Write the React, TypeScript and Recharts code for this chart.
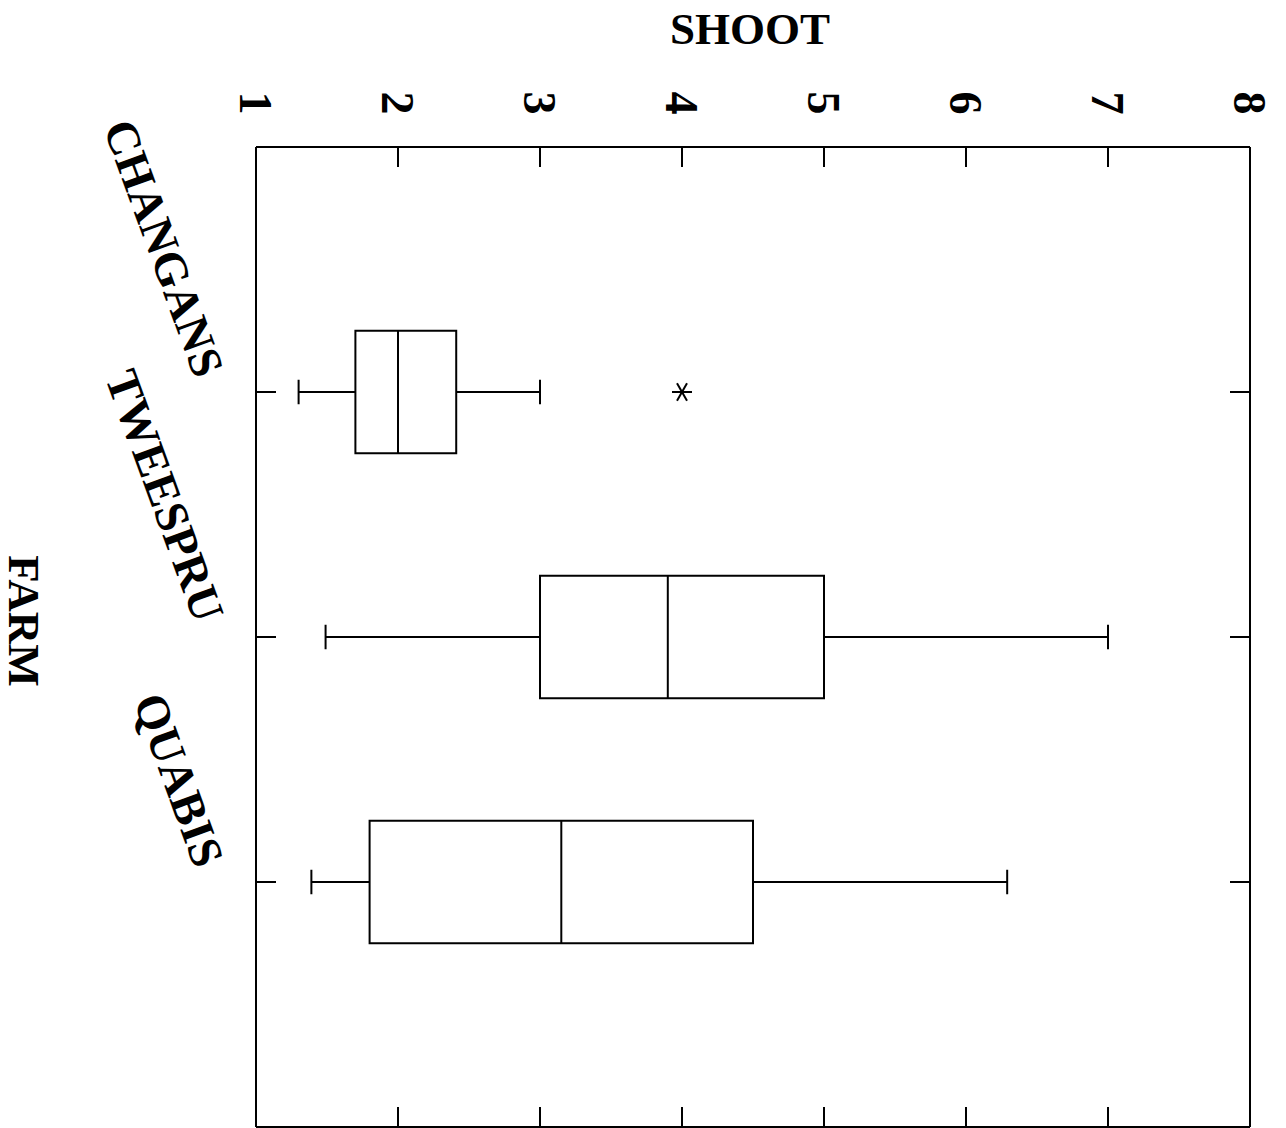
import React from 'react';
import {
  ComposedChart,
  XAxis,
  YAxis,
  Scatter,
  ReferenceArea,
  ReferenceLine,
  Customized,
} from 'recharts';

// ---- data ----
const farms = ['CHANGANS', 'TWEESPRU', 'QUABIS'];
const farmPositions = [1, 2, 3];
const lowerWhisker = [1.3, 1.49, 1.39];
const q1 = [1.7, 3.0, 1.8];
const median = [2.0, 3.9, 3.15];
const q3 = [2.41, 5.0, 4.5];
const upperWhisker = [3.0, 7.0, 6.29];
const outlierFarm = [1];
const outlierValue = [4.0];
const shootTicks = [1, 2, 3, 4, 5, 6, 7, 8];

// ---- layout constants ----
const W = 1286;
const H = 1128;
const PLOT_LEFT = 256;
const PLOT_RIGHT = 1250;
const PLOT_TOP = 147;
const PLOT_BOTTOM = 1127;
const AX = 1; // thin axis band
const FONT = '"Liberation Serif", "Times New Roman", serif';
const BOX_HALF = 0.25;
const CAP_HALF = 0.05;
const TICK_LEN = 20;

const outliers = outlierFarm.map((f, i) => ({ x: outlierValue[i], y: f }));

const TopTick = (props: any) => {
  const { x, payload } = props;
  const v = payload.value;
  const lx = x - 16;
  const ly = 103;
  return (
    <g>
      {v !== 1 && v !== 8 && (
        <line x1={x} x2={x} y1={PLOT_TOP} y2={PLOT_TOP + TICK_LEN} stroke="#000" strokeWidth={2} />
      )}
      <text
        x={lx}
        y={ly}
        transform={`rotate(90 ${lx} ${ly})`}
        textAnchor="middle"
        fontFamily={FONT}
        fontWeight="bold"
        fontSize={46}
        fill="#000"
      >
        {v}
      </text>
    </g>
  );
};

const BottomTick = (props: any) => {
  const { x, payload } = props;
  const v = payload.value;
  if (v === 1 || v === 8) return <g />;
  return <line x1={x} x2={x} y1={PLOT_BOTTOM} y2={PLOT_BOTTOM - TICK_LEN} stroke="#000" strokeWidth={2} />;
};

const LeftTick = (props: any) => {
  const { y, payload } = props;
  const idx = farmPositions.indexOf(payload.value);
  const lx = 195;
  const ly = y - 12;
  return (
    <g>
      <line x1={PLOT_LEFT} x2={PLOT_LEFT + TICK_LEN} y1={y} y2={y} stroke="#000" strokeWidth={2} />
      <text
        x={lx}
        y={ly}
        transform={`rotate(70 ${lx} ${ly})`}
        textAnchor="end"
        fontFamily={FONT}
        fontWeight="bold"
        fontSize={47}
        fill="#000"
      >
        {idx >= 0 ? farms[idx] : ''}
      </text>
    </g>
  );
};

const RightTick = (props: any) => {
  const { y } = props;
  return <line x1={PLOT_RIGHT} x2={PLOT_RIGHT - TICK_LEN} y1={y} y2={y} stroke="#000" strokeWidth={2} />;
};

const Asterisk = (props: any) => {
  const { cx, cy } = props;
  const r = 10;
  const lines = [0, 60, 120].map((a) => {
    const rad = (a * Math.PI) / 180;
    const dx = r * Math.cos(rad);
    const dy = r * Math.sin(rad);
    return <line key={a} x1={cx - dx} y1={cy - dy} x2={cx + dx} y2={cy + dy} stroke="#000" strokeWidth={2} />;
  });
  return <g>{lines}</g>;
};

const Titles = () => (
  <g>
    <text x={750} y={44} textAnchor="middle" fontFamily={FONT} fontWeight="bold" fontSize={45} fill="#000">
      SHOOT
    </text>
    <text
      x={9}
      y={621}
      transform="rotate(90 9 621)"
      textAnchor="middle"
      fontFamily={FONT}
      fontWeight="bold"
      fontSize={45}
      fill="#000"
    >
      FARM
    </text>
  </g>
);

export default function App() {
  return (
    <div style={{ position: 'absolute', left: 0, top: 0, width: W, height: H, background: '#fff' }}>
      <ComposedChart
        width={W}
        height={H}
        layout="vertical"
        data={outliers}
        margin={{
          top: PLOT_TOP - AX,
          left: PLOT_LEFT - AX,
          right: W - PLOT_RIGHT - AX,
          bottom: H - PLOT_BOTTOM - AX,
        }}
      >
        <XAxis
          xAxisId="top"
          type="number"
          dataKey="x"
          orientation="top"
          domain={[1, 8]}
          ticks={shootTicks}
          height={AX}
          axisLine={{ stroke: '#000', strokeWidth: 2 }}
          tickLine={false}
          tick={<TopTick />}
          allowDataOverflow
        />
        <XAxis
          xAxisId="bottom"
          type="number"
          dataKey="x"
          orientation="bottom"
          domain={[1, 8]}
          ticks={shootTicks}
          height={AX}
          axisLine={{ stroke: '#000', strokeWidth: 2 }}
          tickLine={false}
          tick={<BottomTick />}
          allowDataOverflow
        />
        <YAxis
          yAxisId="left"
          type="number"
          dataKey="y"
          orientation="left"
          domain={[0, 4]}
          ticks={farmPositions}
          width={AX}
          axisLine={{ stroke: '#000', strokeWidth: 2 }}
          tickLine={false}
          tick={<LeftTick />}
          allowDataOverflow
        />
        <YAxis
          yAxisId="right"
          type="number"
          dataKey="y"
          orientation="right"
          domain={[0, 4]}
          ticks={farmPositions}
          width={AX}
          axisLine={{ stroke: '#000', strokeWidth: 2 }}
          tickLine={false}
          tick={<RightTick />}
          allowDataOverflow
        />
        {farmPositions.map((p, i) => (
          <ReferenceArea
            key={`box-${i}`}
            xAxisId="top"
            yAxisId="left"
            x1={q1[i]}
            x2={q3[i]}
            y1={p - BOX_HALF}
            y2={p + BOX_HALF}
            fill="#fff"
            fillOpacity={1}
            stroke="#000"
            strokeWidth={2}
          />
        ))}
        {farmPositions.map((p, i) => (
          <ReferenceLine
            key={`med-${i}`}
            xAxisId="top"
            yAxisId="left"
            segment={[
              { x: median[i], y: p - BOX_HALF },
              { x: median[i], y: p + BOX_HALF },
            ]}
            stroke="#000"
            strokeWidth={2}
          />
        ))}
        {farmPositions.map((p, i) => (
          <ReferenceLine
            key={`wl-${i}`}
            xAxisId="top"
            yAxisId="left"
            segment={[
              { x: lowerWhisker[i], y: p },
              { x: q1[i], y: p },
            ]}
            stroke="#000"
            strokeWidth={2}
          />
        ))}
        {farmPositions.map((p, i) => (
          <ReferenceLine
            key={`wh-${i}`}
            xAxisId="top"
            yAxisId="left"
            segment={[
              { x: q3[i], y: p },
              { x: upperWhisker[i], y: p },
            ]}
            stroke="#000"
            strokeWidth={2}
          />
        ))}
        {farmPositions.map((p, i) => (
          <ReferenceLine
            key={`cl-${i}`}
            xAxisId="top"
            yAxisId="left"
            segment={[
              { x: lowerWhisker[i], y: p - CAP_HALF },
              { x: lowerWhisker[i], y: p + CAP_HALF },
            ]}
            stroke="#000"
            strokeWidth={2}
          />
        ))}
        {farmPositions.map((p, i) => (
          <ReferenceLine
            key={`ch-${i}`}
            xAxisId="top"
            yAxisId="left"
            segment={[
              { x: upperWhisker[i], y: p - CAP_HALF },
              { x: upperWhisker[i], y: p + CAP_HALF },
            ]}
            stroke="#000"
            strokeWidth={2}
          />
        ))}
        <Scatter
          xAxisId="top"
          yAxisId="left"
          data={outliers}
          dataKey="x"
          shape={<Asterisk />}
          isAnimationActive={false}
        />
        <Customized component={<Titles />} />
      </ComposedChart>
    </div>
  );
}
